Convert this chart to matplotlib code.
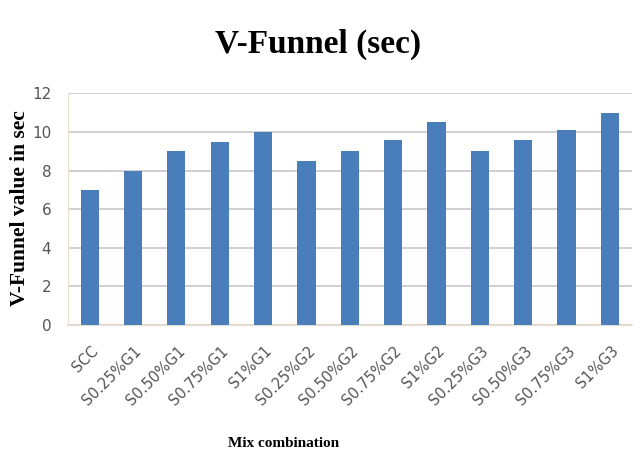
import matplotlib
matplotlib.use("Agg")
import matplotlib.pyplot as plt
import numpy as np

categories = ["SCC", "S0.25%G1", "S0.50%G1", "S0.75%G1", "S1%G1",
              "S0.25%G2", "S0.50%G2", "S0.75%G2", "S1%G2",
              "S0.25%G3", "S0.50%G3", "S0.75%G3", "S1%G3"]
values = [7, 8, 9, 9.5, 10, 8.5, 9, 9.6, 10.5, 9, 9.6, 10.1, 11]
yticks = [0, 2, 4, 6, 8, 10, 12]

fig = plt.figure(figsize=(6.44, 4.66), dpi=100)
ax = fig.add_axes([0.1056, 0.3026, 0.875, 0.497])
x = np.arange(len(categories))
ax.bar(x, values, width=0.42, color="#4A7EBB", zorder=3)
ax.set_xlim(-0.5, len(categories) - 0.5)
ax.set_ylim(0, 12)
ax.set_yticks(yticks)
ax.set_yticklabels([str(t) for t in yticks], color="#555555", fontsize=11)
ax.set_xticks(x)
ax.set_xticklabels([])
for xi, lab in zip(x, categories):
    ax.annotate(lab, xy=(xi, 0), xycoords=("data", "axes fraction"),
                xytext=(4.5, -17), textcoords="offset points",
                rotation=45, ha="right", va="center", rotation_mode="anchor",
                color="#555555", fontsize=10.5, annotation_clip=False)
ax.tick_params(axis="x", length=0, pad=6)
ax.tick_params(axis="y", length=0, pad=12)
ax.grid(axis="y", color="#C8C8C8", linewidth=1.2, zorder=0)
for s in ["top", "right"]:
    ax.spines[s].set_visible(False)
ax.spines["left"].set_color("#E8E0D0")
ax.spines["bottom"].set_color("#E0D8C8")
ax.spines["bottom"].set_linewidth(1.2)

fig.text(0.494, 0.905, "V-Funnel (sec)", ha="center", va="center",
         fontsize=24, fontweight="bold", family="Liberation Serif")
fig.text(0.031, 0.554, "V-Funnel value in sec", ha="center", va="center",
         rotation=90, fontsize=15.5, fontweight="bold", family="Liberation Serif")
fig.text(0.441, 0.049, "Mix combination", ha="center", va="center",
         fontsize=11, fontweight="bold", family="Liberation Serif")
fig.savefig("out.png", dpi=100)
